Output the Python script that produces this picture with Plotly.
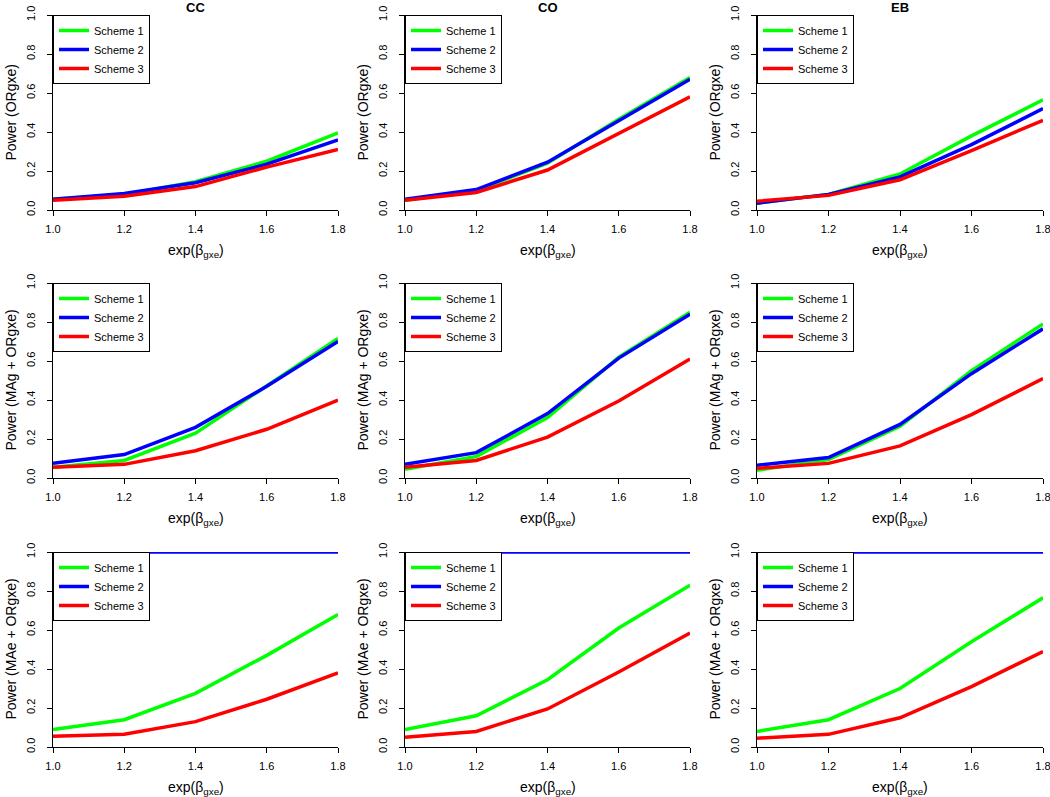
import plotly.graph_objects as go

x_vals = [1.0, 1.2, 1.4, 1.6, 1.8]
schemes = ["Scheme 1", "Scheme 2", "Scheme 3"]
colors = ["#00ff00", "#0000ff", "#ff0000"]
col_titles = ["CC", "CO", "EB"]
row_ylabels = ["Power (ORgxe)", "Power (MAg + ORgxe)", "Power (MAe + ORgxe)"]

# Row 1: ORgxe
cc_or_s1 = [0.055, 0.080, 0.145, 0.250, 0.395]
cc_or_s2 = [0.055, 0.085, 0.140, 0.235, 0.360]
cc_or_s3 = [0.050, 0.070, 0.120, 0.220, 0.310]
co_or_s1 = [0.050, 0.100, 0.240, 0.465, 0.680]
co_or_s2 = [0.055, 0.105, 0.245, 0.455, 0.670]
co_or_s3 = [0.050, 0.090, 0.205, 0.395, 0.580]
eb_or_s1 = [0.035, 0.080, 0.185, 0.380, 0.565]
eb_or_s2 = [0.035, 0.080, 0.170, 0.335, 0.520]
eb_or_s3 = [0.045, 0.075, 0.155, 0.305, 0.460]

# Row 2: MAg + ORgxe
cc_mag_s1 = [0.055, 0.090, 0.230, 0.470, 0.715]
cc_mag_s2 = [0.075, 0.120, 0.260, 0.470, 0.700]
cc_mag_s3 = [0.055, 0.070, 0.140, 0.250, 0.400]
co_mag_s1 = [0.045, 0.110, 0.310, 0.620, 0.850]
co_mag_s2 = [0.070, 0.130, 0.330, 0.615, 0.840]
co_mag_s3 = [0.055, 0.090, 0.210, 0.395, 0.610]
eb_mag_s1 = [0.040, 0.095, 0.265, 0.550, 0.790]
eb_mag_s2 = [0.065, 0.105, 0.275, 0.535, 0.765]
eb_mag_s3 = [0.050, 0.075, 0.165, 0.325, 0.510]

# Row 3: MAe + ORgxe
cc_mae_s1 = [0.090, 0.140, 0.275, 0.470, 0.680]
cc_mae_s2 = [1.0, 1.0, 1.0, 1.0, 1.0]
cc_mae_s3 = [0.055, 0.065, 0.130, 0.245, 0.380]
co_mae_s1 = [0.090, 0.160, 0.345, 0.610, 0.830]
co_mae_s2 = [1.0, 1.0, 1.0, 1.0, 1.0]
co_mae_s3 = [0.050, 0.080, 0.195, 0.385, 0.585]
eb_mae_s1 = [0.080, 0.140, 0.300, 0.540, 0.765]
eb_mae_s2 = [1.0, 1.0, 1.0, 1.0, 1.0]
eb_mae_s3 = [0.045, 0.065, 0.150, 0.310, 0.490]

panels = [
    [[cc_or_s1, cc_or_s2, cc_or_s3], [co_or_s1, co_or_s2, co_or_s3], [eb_or_s1, eb_or_s2, eb_or_s3]],
    [[cc_mag_s1, cc_mag_s2, cc_mag_s3], [co_mag_s1, co_mag_s2, co_mag_s3], [eb_mag_s1, eb_mag_s2, eb_mag_s3]],
    [[cc_mae_s1, cc_mae_s2, cc_mae_s3], [co_mae_s1, co_mae_s2, co_mae_s3], [eb_mae_s1, eb_mae_s2, eb_mae_s3]],
]

W, H = 1050, 797
col_px = [(53, 338), (405, 690), (757, 1043)]
row_px = [(15, 210), (283, 478), (552, 747)]

FONT = "Liberation Sans, Arial, Helvetica, sans-serif"

fig = go.Figure()
layout = dict(
    width=W, height=H,
    margin=dict(l=0, r=0, t=0, b=0, pad=0, autoexpand=False),
    paper_bgcolor="white", plot_bgcolor="white",
    font=dict(family=FONT, color="black"),
    showlegend=True,
)
annotations = []

for r in range(3):
    for c in range(3):
        idx = r * 3 + c + 1
        sfx = "" if idx == 1 else str(idx)
        xa, ya = "x" + sfx, "y" + sfx
        lg = "legend" + sfx
        x0, x1 = col_px[c][0] / W, col_px[c][1] / W
        y1, y0 = 1 - row_px[r][0] / H, 1 - row_px[r][1] / H
        for s in range(3):
            fig.add_trace(go.Scatter(
                x=x_vals, y=panels[r][c][s], mode="lines", name=schemes[s],
                line=dict(color=colors[s], width=3.5),
                xaxis=xa, yaxis=ya, legend=lg, showlegend=True,
            ))
        layout["xaxis" + sfx] = dict(
            domain=[x0, x1], anchor=ya, range=[1.0, 1.8],
            tickvals=x_vals, tickformat=".1f",
            showline=True, linecolor="black", linewidth=1,
            ticks="outside", ticklen=5, tickcolor="black",
            showgrid=False, zeroline=False, automargin=False,
            tickfont=dict(size=11, color="black", family=FONT),
            ticklabelstandoff=4, ticklabeloverflow="allow",
            fixedrange=True,
        )
        layout["yaxis" + sfx] = dict(
            domain=[y0, y1], anchor=xa, range=[0, 1],
            tickvals=[0, 0.2, 0.4, 0.6, 0.8, 1.0], tickformat=".1f",
            tickangle=-90,
            showline=True, linecolor="black", linewidth=1,
            ticks="outside", ticklen=5, tickcolor="black",
            showgrid=False, zeroline=False, automargin=False,
            tickfont=dict(size=11, color="black", family=FONT),
            ticklabelstandoff=8, ticklabeloverflow="allow",
            fixedrange=True,
        )
        layout[lg] = dict(
            x=x0, y=y1, xanchor="left", yanchor="top", xref="paper", yref="paper",
            bordercolor="black", borderwidth=1, bgcolor="white",
            font=dict(size=11, color="black", family=FONT),
            tracegroupgap=0,
        )
        # x-axis title
        annotations.append(dict(
            x=(x0 + x1) / 2, y=1 - (row_px[r][1] + 41) / H, xref="paper", yref="paper",
            text="exp(β<sub>gxe</sub>)", showarrow=False,
            font=dict(size=14, family=FONT, color="black"),
            xanchor="center", yanchor="middle",
        ))
        # y-axis title
        annotations.append(dict(
            x=(col_px[c][0] - 43) / W, y=(y0 + y1) / 2, xref="paper", yref="paper",
            text=row_ylabels[r], showarrow=False, textangle=-90,
            font=dict(size=14, family=FONT, color="black"),
            xanchor="center", yanchor="middle",
        ))
        if r == 0:
            annotations.append(dict(
                x=(x0 + x1) / 2, y=1 - 7 / H, xref="paper", yref="paper",
                text="<b>" + col_titles[c] + "</b>", showarrow=False,
                font=dict(size=13, family=FONT, color="black"),
                xanchor="center", yanchor="middle",
            ))

layout["annotations"] = annotations
fig.update_layout(**layout)
fig.write_html(
    "out.html",
    config={"displayModeBar": False},
    post_script="document.body.style.margin='0';document.body.style.overflow='hidden';",
)
